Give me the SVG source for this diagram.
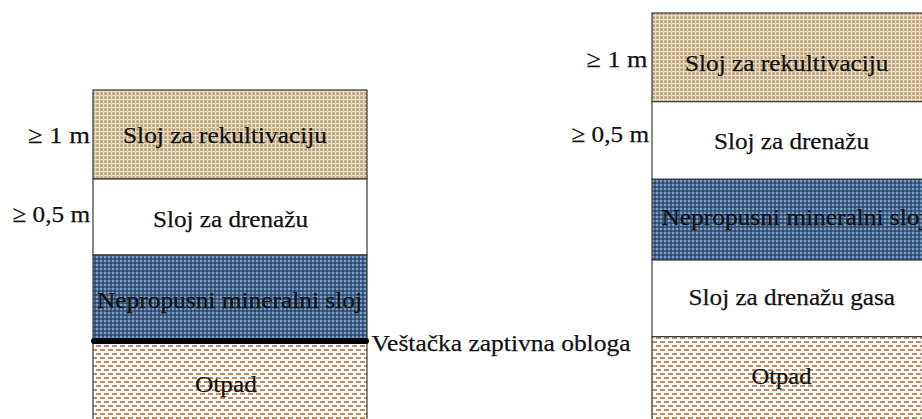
<svg xmlns="http://www.w3.org/2000/svg" width="922" height="419" viewBox="0 0 922 419">
<style>
text{font-family:'Liberation Serif','Times New Roman',serif;font-size:24px;fill:#111;stroke:#111;stroke-width:0.25}
.b{stroke:#3a3a3a;stroke-width:1.2}
</style>
<defs>
<pattern id="rek" width="4" height="4" patternUnits="userSpaceOnUse">
<rect width="4" height="4" fill="#e2dcc6"/>
<rect x="0" y="0" width="3" height="3" fill="#cdb690"/>
<rect x="1" y="1" width="1.5" height="1.5" fill="#b39268"/>
</pattern>
<pattern id="nep" width="4" height="4" patternUnits="userSpaceOnUse">
<rect width="4" height="4" fill="#42638a"/>
<rect x="0" y="0" width="2" height="2" fill="#7d9ec4"/>
<rect x="2" y="2" width="2" height="2" fill="#2f4868"/>
</pattern>
<pattern id="otp" width="8" height="8" patternUnits="userSpaceOnUse">
<rect width="8" height="8" fill="#ffffff"/>
<rect x="0" y="1" width="5" height="2" fill="#bf8d60"/>
<rect x="4" y="5" width="5" height="2" fill="#bf8d60"/>
<rect x="-4" y="5" width="5" height="2" fill="#bf8d60"/>
</pattern>
</defs>

<g id="left-rekultivacija">
<rect class="b" x="93" y="90" width="274" height="89" fill="url(#rek)"/>
<text x="123" y="143" textLength="204" lengthAdjust="spacingAndGlyphs">Sloj za rekultivaciju</text>
<text x="28" y="143" textLength="62" lengthAdjust="spacingAndGlyphs">≥ 1 m</text>
</g>
<g id="left-drenaza">
<rect class="b" x="93" y="179" width="274" height="76" fill="#ffffff"/>
<text x="153" y="227" textLength="155" lengthAdjust="spacingAndGlyphs">Sloj za drenažu</text>
<text x="12.5" y="222" textLength="77.5" lengthAdjust="spacingAndGlyphs">≥ 0,5 m</text>
</g>
<g id="left-nepropusni">
<rect class="b" x="93" y="255" width="274" height="86" fill="url(#nep)"/>
<text x="97" y="308" textLength="265" lengthAdjust="spacingAndGlyphs">Nepropusni mineralni sloj</text>
</g>
<g id="left-otpad">
<rect class="b" x="93" y="341" width="274" height="90" fill="url(#otp)"/>
<text x="195" y="391.5" textLength="62" lengthAdjust="spacingAndGlyphs">Otpad</text>
</g>
<g id="left-obloga">
<line x1="94" y1="341" x2="366" y2="341" stroke="#000" stroke-width="6" stroke-linecap="round"/>
<text x="371.5" y="350.5" textLength="259" lengthAdjust="spacingAndGlyphs">Veštačka zaptivna obloga</text>
</g>

<g id="right-rekultivacija">
<rect class="b" x="652" y="13" width="280" height="88.7" fill="url(#rek)"/>
<text x="685" y="71" textLength="203.5" lengthAdjust="spacingAndGlyphs">Sloj za rekultivaciju</text>
<text x="586.5" y="66.5" textLength="61" lengthAdjust="spacingAndGlyphs">≥ 1 m</text>
</g>
<g id="right-drenaza">
<rect class="b" x="652" y="101.7" width="280" height="77.6" fill="#ffffff"/>
<text x="714" y="149" textLength="155" lengthAdjust="spacingAndGlyphs">Sloj za drenažu</text>
<text x="571.5" y="141.5" textLength="77.5" lengthAdjust="spacingAndGlyphs">≥ 0,5 m</text>
</g>
<g id="right-nepropusni">
<rect class="b" x="652" y="179.3" width="280" height="80.7" fill="url(#nep)"/>
<text x="661.5" y="225" textLength="265" lengthAdjust="spacingAndGlyphs">Nepropusni mineralni sloj</text>
</g>
<g id="right-drenaza-gasa">
<rect class="b" x="652" y="260" width="280" height="76.7" fill="#ffffff"/>
<text x="688.5" y="305" textLength="206.5" lengthAdjust="spacingAndGlyphs">Sloj za drenažu gasa</text>
</g>
<g id="right-otpad">
<rect class="b" x="652" y="336.7" width="280" height="95" fill="url(#otp)"/>
<text x="751.5" y="383.5" textLength="60" lengthAdjust="spacingAndGlyphs">Otpad</text>
</g>
<g id="connectors"/>
</svg>
